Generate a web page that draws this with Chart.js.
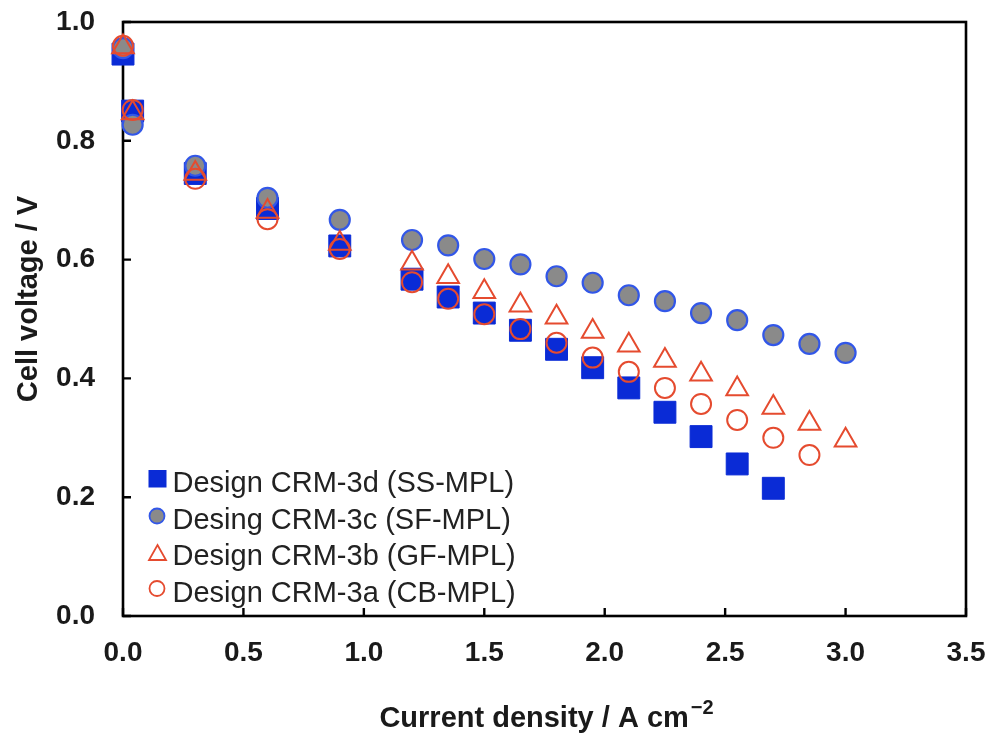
<!DOCTYPE html>
<html>
<head>
<meta charset="utf-8">
<script src="https://cdn.jsdelivr.net/npm/chart.js@4.4.1/dist/chart.umd.min.js"></script>
<style>
html,body{margin:0;padding:0;background:#ffffff;}
#wrap{width:988px;height:739px;position:relative;}
</style>
</head>
<body>
<div id="wrap"><canvas id="c" width="988" height="739"></canvas></div>
<script>
// ---- data ----
const currentDensity = [0, 0.04, 0.3, 0.6, 0.9, 1.2, 1.35, 1.5, 1.65, 1.8, 1.95, 2.1, 2.25, 2.4, 2.55, 2.7, 2.85, 3.0];
const voltageSS = [0.946, 0.850, 0.745, 0.686, 0.623, 0.567, 0.537, 0.510, 0.481, 0.449, 0.418, 0.384, 0.343, 0.302, 0.256, 0.215];
const voltageSF = [0.956, 0.827, 0.758, 0.704, 0.667, 0.633, 0.624, 0.601, 0.592, 0.572, 0.561, 0.540, 0.530, 0.510, 0.498, 0.473, 0.458, 0.443];
const voltageGF = [0.958, 0.847, 0.745, 0.681, 0.627, 0.594, 0.571, 0.546, 0.523, 0.503, 0.479, 0.456, 0.430, 0.407, 0.382, 0.351, 0.324, 0.296];
const voltageCB = [0.960, 0.852, 0.736, 0.668, 0.618, 0.562, 0.534, 0.508, 0.483, 0.460, 0.435, 0.411, 0.384, 0.357, 0.330, 0.300, 0.271];
const seriesLabels = ['Design CRM-3d (SS-MPL)', 'Desing CRM-3c (SF-MPL)', 'Design CRM-3b (GF-MPL)', 'Design CRM-3a (CB-MPL)'];
const xTickValues = [0, 0.5, 1.0, 1.5, 2.0, 2.5, 3.0, 3.5];
const yTickValues = [0, 0.2, 0.4, 0.6, 0.8, 1.0];
const xTitleText = 'Current density / A cm';
const xTitleSup = '\u22122';
const yTitleText = 'Cell voltage / V';

const toPoints = (vals) => vals.map((v, i) => ({x: currentDensity[i], y: v}));

const BLUE = '#0a2bd6';
const GRAY = '#8a8a8a';
const CBORDER = '#3257e8';
const RED = '#e54b2f';
const FONT = "'Liberation Sans', Arial, Helvetica, sans-serif";
const TXT = '#1a1a1a';

const datasets = [
  {label: seriesLabels[0], data: toPoints(voltageSS), pointStyle: 'rect', pointRadius: 15.5,
   backgroundColor: BLUE, borderColor: BLUE, pointBorderWidth: 1, order: 3},
  {label: seriesLabels[1], data: toPoints(voltageSF), pointStyle: 'circle', pointRadius: 10,
   backgroundColor: GRAY, borderColor: CBORDER, pointBorderWidth: 2.2, order: 2},
  {label: seriesLabels[2], data: toPoints(voltageGF), pointStyle: 'triangle', pointRadius: 12.5,
   backgroundColor: 'rgba(0,0,0,0)', borderColor: RED, pointBorderWidth: 2, order: 1},
  {label: seriesLabels[3], data: toPoints(voltageCB), pointStyle: 'circle', pointRadius: 10,
   backgroundColor: 'rgba(0,0,0,0)', borderColor: RED, pointBorderWidth: 2, order: 0}
];
datasets.forEach(d => { d.showLine = false; d.clip = false; d.pointHoverRadius = d.pointRadius; });

const framePlugin = {
  id: 'frame',
  beforeDatasetsDraw(chart) {
    const {ctx, chartArea: a} = chart;
    const xs = chart.scales.x, ys = chart.scales.y;
    ctx.save();
    ctx.strokeStyle = '#000';
    ctx.lineWidth = 2.6;
    ctx.strokeRect(a.left, a.top, a.right - a.left, a.bottom - a.top);
    ctx.lineWidth = 2.4;
    ctx.beginPath();
    xTickValues.forEach(v => {
      const px = xs.getPixelForValue(v);
      ctx.moveTo(px, a.bottom);
      ctx.lineTo(px, a.bottom - 8);
    });
    yTickValues.forEach(v => {
      const py = ys.getPixelForValue(v);
      ctx.moveTo(a.left, py);
      ctx.lineTo(a.left + 8, py);
    });
    ctx.stroke();
    ctx.fillStyle = TXT;
    ctx.font = 'bold 29px ' + FONT;
    const w1 = ctx.measureText(xTitleText).width;
    ctx.font = 'bold 20px ' + FONT;
    const w2 = ctx.measureText(xTitleSup).width;
    const cx = (a.left + a.right) / 2 + 2;
    const x0 = cx - (w1 + w2 + 2) / 2;
    ctx.textAlign = 'left';
    ctx.textBaseline = 'alphabetic';
    ctx.font = 'bold 29px ' + FONT;
    ctx.fillText(xTitleText, x0, 727);
    ctx.font = 'bold 20px ' + FONT;
    ctx.fillText(xTitleSup, x0 + w1 + 2, 714);
    ctx.save();
    ctx.translate(37, 299);
    ctx.rotate(-Math.PI / 2);
    ctx.font = 'bold 29px ' + FONT;
    ctx.textAlign = 'center';
    ctx.fillText(yTitleText, 0, 0);
    ctx.restore();
    ctx.restore();
  },
  afterDatasetsDraw(chart) {
    const {ctx} = chart;
    const baselines = [492, 528.5, 565, 601.5];
    const mx = 157.5;
    ctx.save();
    ctx.fillStyle = BLUE;
    ctx.fillRect(mx - 9, baselines[0] - 22, 18, 17.5);
    ctx.beginPath();
    ctx.arc(mx - 0.5, baselines[1] - 12.5, 7.5, 0, Math.PI * 2);
    ctx.fillStyle = GRAY; ctx.fill();
    ctx.lineWidth = 1.8; ctx.strokeStyle = CBORDER; ctx.stroke();
    ctx.beginPath();
    ctx.moveTo(mx, baselines[2] - 20);
    ctx.lineTo(mx + 8.5, baselines[2] - 5);
    ctx.lineTo(mx - 8.5, baselines[2] - 5);
    ctx.closePath();
    ctx.lineWidth = 1.8; ctx.strokeStyle = RED; ctx.stroke();
    ctx.beginPath();
    ctx.arc(mx - 0.5, baselines[3] - 13, 7.5, 0, Math.PI * 2);
    ctx.lineWidth = 1.8; ctx.strokeStyle = RED; ctx.stroke();
    ctx.fillStyle = '#222';
    ctx.font = '29px ' + FONT;
    ctx.textAlign = 'left';
    ctx.textBaseline = 'alphabetic';
    seriesLabels.forEach((t, i) => ctx.fillText(t, 172.5, baselines[i]));
    ctx.restore();
  }
};

new Chart(document.getElementById('c'), {
  type: 'scatter',
  data: {datasets},
  options: {
    responsive: false,
    animation: false,
    events: [],
    layout: {padding: {left: 0, right: 22, top: 22, bottom: 0}},
    plugins: {legend: {display: false}, tooltip: {enabled: false}},
    scales: {
      x: {
        type: 'linear', min: 0, max: 3.5,
        afterBuildTicks: s => { s.ticks = xTickValues.map(v => ({value: v})); },
        afterFit: s => { s.height = 123; s.paddingLeft = 0; s.paddingRight = 0; },
        grid: {display: false, drawTicks: false},
        border: {display: false},
        ticks: {padding: 20, color: TXT, font: {family: FONT, size: 28, weight: 'bold'},
                callback: v => Number(v).toFixed(1), maxRotation: 0, autoSkip: false}
      },
      y: {
        type: 'linear', min: 0, max: 1.0,
        afterBuildTicks: s => { s.ticks = yTickValues.map(v => ({value: v})); },
        afterFit: s => { s.width = 123; s.paddingTop = 0; s.paddingBottom = 0; },
        grid: {display: false, drawTicks: false},
        border: {display: false},
        ticks: {padding: 28, color: TXT, font: {family: FONT, size: 28, weight: 'bold'},
                callback: v => Number(v).toFixed(1), autoSkip: false}
      }
    }
  },
  plugins: [framePlugin]
});
</script>
</body>
</html>
